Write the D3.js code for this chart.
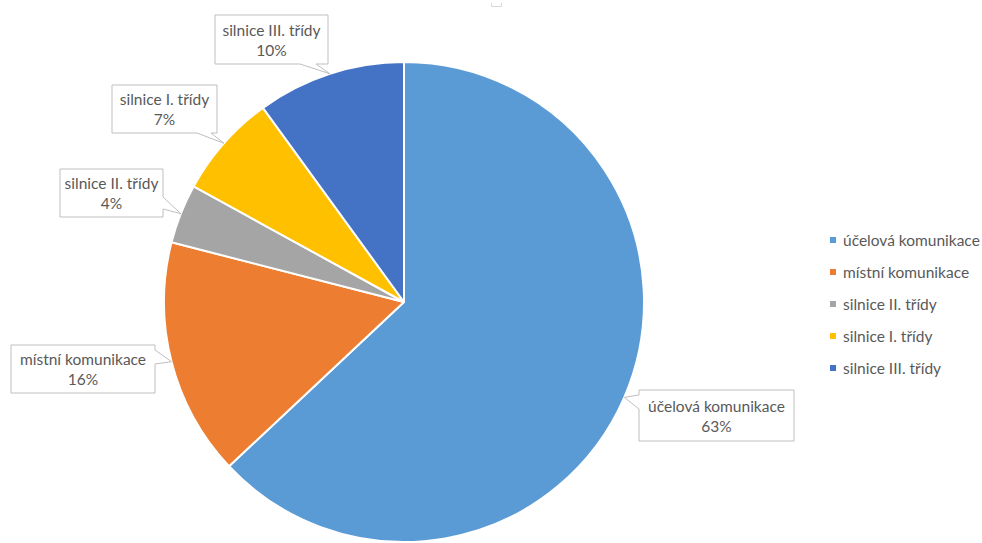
<!DOCTYPE html>
<html>
<head>
<meta charset="utf-8">
<script src="https://cdn.jsdelivr.net/npm/d3@7"></script>
<style>
  html, body { margin: 0; padding: 0; background: #fff; }
  svg { display: block; }
  text { font-family: Lato, "Open Sans", sans-serif; fill: #595959; }
</style>
</head>
<body>
<svg id="chart" width="982" height="543"></svg>
<script>
// Road network length by road category (share of total, %)
const categories = ["účelová komunikace", "místní komunikace", "silnice II. třídy", "silnice I. třídy", "silnice III. třídy"];
const values = [63, 16, 4, 7, 10];
const colors = ["#5B9BD5", "#ED7D31", "#A5A5A5", "#FFC000", "#4472C4"];

const svg = d3.select("#chart");
const cx = 404, cy = 302, R = 240;
const fontSize = 15.5;

const data = categories.map((c, i) => ({ name: c, value: values[i], color: colors[i] }));

const pie = d3.pie().value(d => d.value).sort(null);
const arcs = pie(data);
const arc = d3.arc().innerRadius(0).outerRadius(R);

const g = svg.append("g").attr("transform", `translate(${cx},${cy})`);
g.selectAll("path.slice")
  .data(arcs)
  .enter().append("path")
  .attr("class", "slice")
  .attr("d", arc)
  .attr("fill", d => d.data.color)
  .attr("stroke", "#fff")
  .attr("stroke-width", 2)
  .attr("stroke-linejoin", "round");

// Callout boxes for data labels: box, side carrying the pointer, pointer base along that side
const callouts = [
  { box: [639, 390, 155, 51], side: "left",   base: [395, 409] },
  { box: [11, 345, 144, 48],  side: "right",  base: [350, 364] },
  { box: [60, 169, 103, 48],  side: "right",  base: [197, 209] },
  { box: [112, 85, 105, 48],  side: "bottom", base: [197, 211] },
  { box: [215, 15, 113, 49],  side: "bottom", base: [300, 316] }
];

function calloutPath(b, side, base, tip) {
  const [x, y, w, h] = b;
  const x2 = x + w, y2 = y + h;
  const p = d3.path();
  p.moveTo(x, y);
  p.lineTo(x2, y);
  if (side === "right") {
    p.lineTo(x2, base[0]); p.lineTo(tip[0], tip[1]); p.lineTo(x2, base[1]);
  }
  p.lineTo(x2, y2);
  if (side === "bottom") {
    p.lineTo(base[1], y2); p.lineTo(tip[0], tip[1]); p.lineTo(base[0], y2);
  }
  p.lineTo(x, y2);
  if (side === "left") {
    p.lineTo(x, base[1]); p.lineTo(tip[0], tip[1]); p.lineTo(x, base[0]);
  }
  p.closePath();
  return p.toString();
}

const labels = svg.append("g").attr("class", "labels");
arcs.forEach((a, i) => {
  const c = callouts[i];
  const mid = (a.startAngle + a.endAngle) / 2;
  const tip = [cx + R * Math.sin(mid), cy - R * Math.cos(mid)];
  labels.append("path")
    .attr("d", calloutPath(c.box, c.side, c.base, tip))
    .attr("fill", "#fff")
    .attr("stroke", "#BFBFBF")
    .attr("stroke-width", 1);
  const [x, y, w, h] = c.box;
  const t = labels.append("text")
    .attr("text-anchor", "middle")
    .attr("font-size", fontSize);
  t.append("tspan").attr("x", x + w / 2).attr("y", y + h / 2 - 4).text(a.data.name);
  t.append("tspan").attr("x", x + w / 2).attr("y", y + h / 2 + 16).text(d3.format(".0%")(a.data.value / d3.sum(values)));
});

// Legend
const legend = svg.append("g").attr("class", "legend");
const ly = d3.scalePoint().domain(categories).range([240, 368]);
categories.forEach((c, i) => {
  legend.append("rect")
    .attr("x", 830).attr("y", ly(c) - 3)
    .attr("width", 6).attr("height", 6)
    .attr("fill", colors[i]);
  legend.append("text")
    .attr("x", 843).attr("y", ly(c) + 5.5)
    .attr("font-size", fontSize)
    .text(c);
});

// Faint edge of the title frame at the top
svg.append("path")
  .attr("d", "M491.5,3 V6.5 H501.5 V3")
  .attr("fill", "none")
  .attr("stroke", "#D9D9D9")
  .attr("stroke-width", 1);
</script>
</body>
</html>
